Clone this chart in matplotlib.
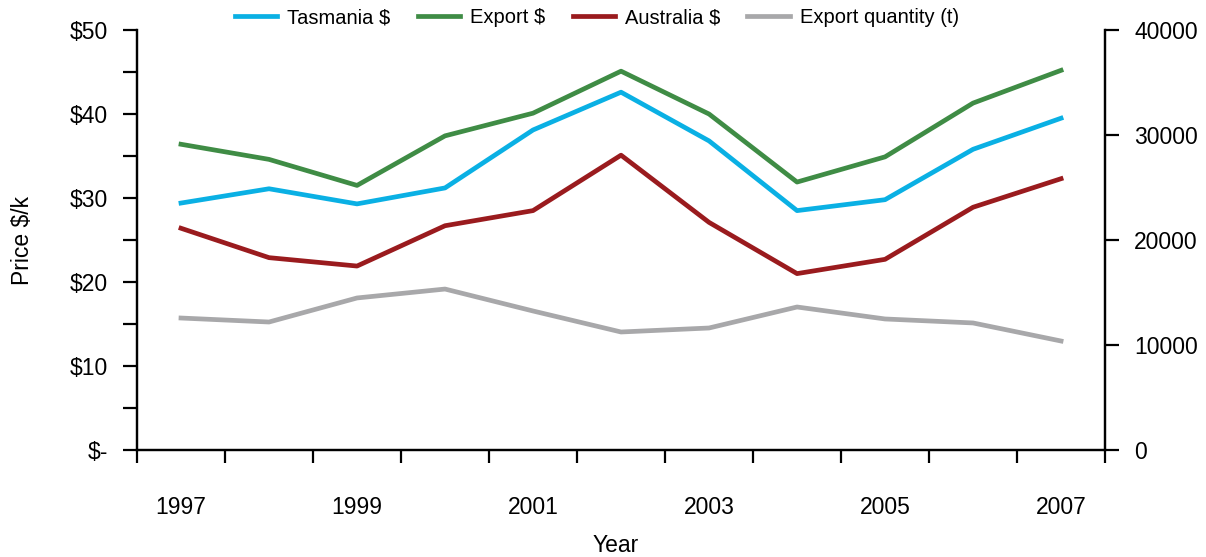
import numpy as np
import matplotlib
matplotlib.use('Agg')
import matplotlib.pyplot as plt

plt.rcParams['font.family'] = ['Liberation Sans', 'DejaVu Sans']

years = [1997, 1998, 1999, 2000, 2001, 2002, 2003, 2004, 2005, 2006, 2007]
tasmania = [29.4, 31.1, 29.3, 31.2, 38.1, 42.6, 36.8, 28.5, 29.8, 35.8, 39.5]
export = [36.4, 34.6, 31.5, 37.4, 40.1, 45.1, 40.0, 31.9, 34.9, 41.3, 45.2]
australia = [26.4, 22.9, 21.9, 26.7, 28.5, 35.1, 27.1, 21.0, 22.7, 28.9, 32.3]
export_qty = [12570, 12190, 14480, 15330, 13240, 11240, 11620, 13620, 12480, 12100, 10380]

fs = 16.5

fig = plt.figure(figsize=(12.06, 5.57), dpi=100)
ax = fig.add_axes([0.1136, 0.1921, 0.8027, 0.754])
ax2 = ax.twinx()

x = np.arange(len(years))
lw = 3.4
l1, = ax.plot(x, tasmania, color='#0AB0E4', lw=lw, label='Tasmania $')
l2, = ax.plot(x, export, color='#3F8C45', lw=lw, label='Export $')
l3, = ax.plot(x, australia, color='#9A1B1E', lw=lw, label='Australia $')
l4, = ax2.plot(x, export_qty, color='#A8A8AA', lw=lw, label='Export quantity (t)')

ax.set_xlim(-0.5, len(years) - 0.5)
ax.set_ylim(0, 50)
ax2.set_ylim(0, 40000)

for a in (ax, ax2):
    a.spines['top'].set_visible(False)
    for s in a.spines.values():
        s.set_linewidth(1.6)

ax.set_yticks([0, 10, 20, 30, 40, 50])
ax.set_yticklabels(['$-', '$10', '$20', '$30', '$40', '$50'])
ax.set_yticks([5, 15, 25, 35, 45], minor=True)
ax.tick_params(axis='y', which='both', direction='out', length=10, width=1.6, labelsize=fs, pad=11)

ax2.set_yticks([0, 10000, 20000, 30000, 40000])
ax2.set_yticklabels(['0', '10000', '20000', '30000', '40000'])
ax2.tick_params(axis='y', direction='out', length=10, width=1.6, labelsize=fs, pad=11)

bounds = np.arange(-0.5, len(years), 1.0)
ax.set_xticks(bounds)
ax.set_xticklabels([''] * len(bounds))
ax.tick_params(axis='x', which='major', direction='out', length=9, width=1.6)
ax.set_xticks(x[::2], minor=True)
ax.set_xticklabels([str(y) for y in years[::2]], minor=True)
ax.tick_params(axis='x', which='minor', length=0, pad=33, labelsize=fs)

ax.set_ylabel('Price $/k', fontsize=fs)
ax.yaxis.set_label_coords(-0.106, 0.5)
ax.set_xlabel('Year', fontsize=fs)
ax.xaxis.set_label_coords(0.494, -0.2)

fig.legend(handles=[l1, l2, l3, l4], loc='center', bbox_to_anchor=(0.495, 0.968),
           ncol=4, frameon=False, fontsize=14.5, handlelength=2.1,
           handletextpad=0.5, columnspacing=1.35)

fig.savefig('out.png', dpi=100)
